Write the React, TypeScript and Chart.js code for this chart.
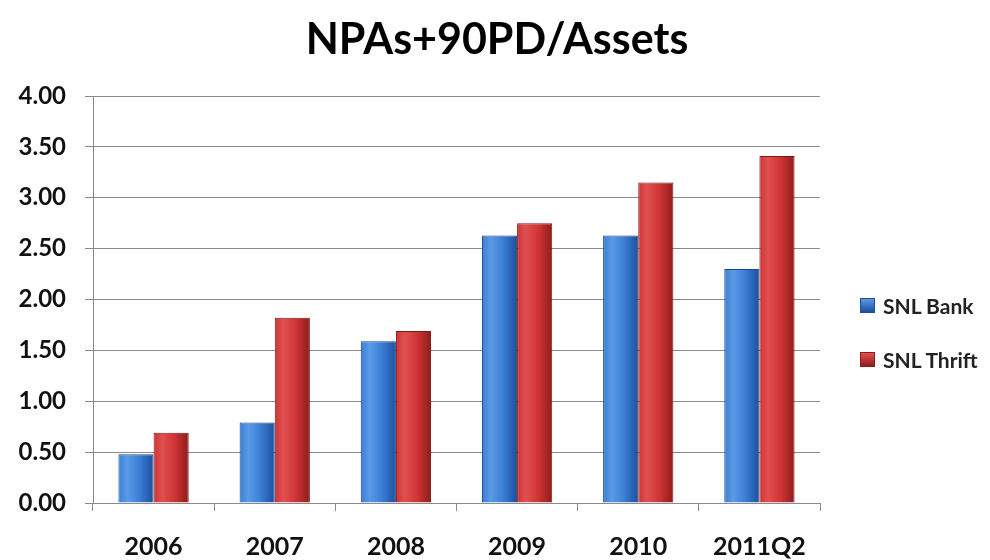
import React, { useEffect, useRef } from "react";
import { Chart, registerables } from "chart.js";

Chart.register(...registerables);

const categories = ["2006", "2007", "2008", "2009", "2010", "2011Q2"];
const bankValues = [0.48, 0.79, 1.59, 2.63, 2.63, 2.3];
const thriftValues = [0.69, 1.82, 1.69, 2.75, 3.15, 3.41];
const seriesNames = ["SNL Bank", "SNL Thrift"];
const chartTitle = "NPAs+90PD/Assets";
const yTickMin = 0;
const yTickMax = 4;
const yTickStep = 0.5;

const FONT = "Lato, 'Open Sans', sans-serif";
const CAT_PCT = 0.58;

const palettes = [
  { edge: "#1d4f9c", light: "#5a9ae6", mid: "#3a7ed6" },
  { edge: "#8e1c1c", light: "#e05050", mid: "#d03434" },
];

function makeFill(di: number) {
  return (ctx: any) => {
    const chart = ctx.chart;
    const xs = chart.scales && chart.scales.x;
    const p = palettes[di];
    if (!xs || ctx.dataIndex === undefined || !isFinite(xs.width)) return p.mid;
    const center = xs.getPixelForValue(ctx.dataIndex);
    const catW = xs.width / categories.length;
    const bw = (catW * CAT_PCT) / 2;
    const left = di === 0 ? center - bw : center;
    const right = left + bw;
    if (!isFinite(left)) return p.mid;
    const g = chart.ctx.createLinearGradient(left, 0, right, 0);
    g.addColorStop(0, p.mid);
    g.addColorStop(0.25, p.light);
    g.addColorStop(0.6, p.mid);
    g.addColorStop(1, p.edge);
    return g;
  };
}

export default function App() {
  const ref = useRef<HTMLCanvasElement | null>(null);

  useEffect(() => {
    document.body.style.margin = "0";
    const canvas = ref.current!;
    const chart = new Chart(canvas, {
      type: "bar",
      data: {
        labels: categories,
        datasets: [
          {
            label: seriesNames[0],
            data: bankValues,
            backgroundColor: makeFill(0),
            borderColor: "#1a4688",
            borderWidth: 1,
            categoryPercentage: CAT_PCT,
            barPercentage: 1,
          },
          {
            label: seriesNames[1],
            data: thriftValues,
            backgroundColor: makeFill(1),
            borderColor: "#7e1818",
            borderWidth: 1,
            categoryPercentage: CAT_PCT,
            barPercentage: 1,
          },
        ],
      },
      options: {
        animation: false,
        responsive: false,
        maintainAspectRatio: false,
        layout: { padding: { left: 0, right: 170, top: 96, bottom: 0 } },
        plugins: {
          legend: { display: false },
          tooltip: { enabled: false },
          title: { display: false },
        },
        scales: {
          x: {
            grid: {
              offset: true,
              drawOnChartArea: false,
              drawTicks: true,
              tickLength: 8,
              color: "#8a8a8a",
            },
            border: { display: true, color: "#8a8a8a", width: 1 },
            ticks: {
              color: "#111",
              font: { family: FONT, size: 25, weight: "bold" },
              padding: 21,
            },
            afterFit: (s: any) => {
              s.height = 57;
            },
          },
          y: {
            min: yTickMin,
            max: yTickMax,
            ticks: {
              stepSize: yTickStep,
              color: "#111",
              font: { family: FONT, size: 24, weight: "bold" },
              padding: 19,
              callback: (v: any) => Number(v).toFixed(2),
            },
            grid: { color: "#8a8a8a", tickLength: 8, lineWidth: 1 },
            border: { display: true, color: "#8a8a8a", width: 1 },
            afterFit: (s: any) => {
              s.width = 93;
            },
          },
        },
      },
    });
    return () => chart.destroy();
  }, []);

  const legendCenters = [305, 359];

  return (
    <div style={{ position: "relative", width: 990, height: 560, background: "#fff" }}>
      <canvas ref={ref} width={990} height={560} style={{ display: "block" }} />
      <div
        style={{
          position: "absolute",
          left: 0,
          width: 994,
          top: 14,
          height: 48,
          lineHeight: "48px",
          textAlign: "center",
          fontFamily: FONT,
          fontWeight: "bold",
          fontSize: 43,
          color: "#000",
        }}
      >
        {chartTitle}
      </div>
      {seriesNames.map((name, i) => (
        <div
          key={name}
          style={{
            position: "absolute",
            left: 860,
            top: legendCenters[i] - 13,
            height: 26,
            display: "flex",
            alignItems: "center",
            fontFamily: FONT,
            fontWeight: "bold",
            fontSize: 21,
            color: "#222",
            whiteSpace: "nowrap",
          }}
        >
          <span
            style={{
              display: "inline-block",
              width: 15,
              height: 15,
              marginRight: 8,
              background: `linear-gradient(180deg, ${palettes[i].light}, ${palettes[i].edge})`,
              border: `1px solid ${palettes[i].edge}`,
              boxSizing: "border-box",
            }}
          />
          {name}
        </div>
      ))}
    </div>
  );
}
